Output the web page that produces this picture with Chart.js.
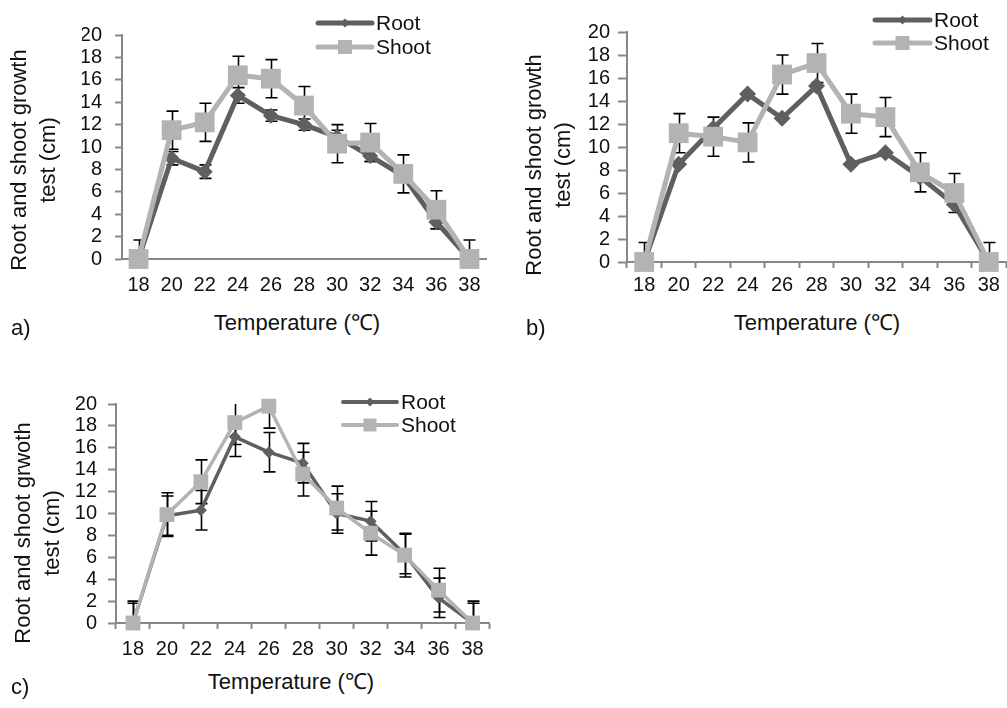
<!DOCTYPE html>
<html>
<head>
<meta charset="utf-8">
<script src="https://cdn.jsdelivr.net/npm/chart.js@4/dist/chart.umd.min.js"></script>
<style>
  html, body { margin: 0; padding: 0; overflow: hidden; background: #fff; }
  body { width: 1007px; height: 708px; position: relative; font-family: "Liberation Sans", Arial, sans-serif; color: #111; }
  canvas { position: absolute; }
  .txt { position: absolute; font-size: 22px; line-height: 26px; white-space: nowrap; }
  .xt { transform: translateX(-50%); }
  .yt { text-align: center; line-height: 29px; transform: translate(-50%, -50%) rotate(-90deg); }
</style>
</head>
<body>
<canvas id="chartA" width="500" height="300" style="left:0;top:0"></canvas>
<canvas id="chartB" width="520" height="300" style="left:500px;top:0"></canvas>
<canvas id="chartC" width="500" height="305" style="left:0;top:360px"></canvas>

<div class="txt yt" style="left:33px;top:160px">Root and shoot growth<br>test (cm)</div>
<div class="txt xt" style="left:297px;top:310px">Temperature (℃)</div>
<div class="txt" style="left:11px;top:315px">a)</div>

<div class="txt yt" style="left:548px;top:165px">Root and shoot growth<br>test (cm)</div>
<div class="txt xt" style="left:817px;top:310px">Temperature (℃)</div>
<div class="txt" style="left:526px;top:315px">b)</div>

<div class="txt yt" style="left:37px;top:533px">Root and shoot grwoth<br>test (cm)</div>
<div class="txt xt" style="left:291px;top:669px">Temperature (℃)</div>
<div class="txt" style="left:11px;top:674px">c)</div>

<script>
// temperatures on the x axis
const temps = ['18', '20', '22', '24', '26', '28', '30', '32', '34', '36', '38'];

// a)
const rootA = [0, 9.0, 7.8, 14.6, 12.8, 12.0, 10.9, 9.2, 7.4, 3.3, 0];
const shootA = [0, 11.5, 12.2, 16.4, 16.1, 13.7, 10.3, 10.4, 7.6, 4.4, 0];
const rootErrA = [0.5, 0.6, 0.6, 0.7, 0.5, 0.5, 0.6, 0.5, 0.5, 0.6, 0.5];
const shootErrA = [1.7, 1.7, 1.7, 1.7, 1.7, 1.7, 1.7, 1.7, 1.7, 1.7, 1.7];

// b)
const rootB = [0, 8.5, 11.6, 14.6, 12.5, 15.3, 8.5, 9.5, 7.4, 5.0, 0];
const shootB = [0, 11.2, 10.9, 10.4, 16.3, 17.3, 12.9, 12.6, 7.8, 6.0, 0];
const rootErrB = [0, 0, 0, 0, 0, 0, 0, 0, 0, 0, 0];
const shootErrB = [1.7, 1.7, 1.7, 1.7, 1.7, 1.7, 1.7, 1.7, 1.7, 1.7, 1.7];

// c)
const rootC = [0, 9.8, 10.3, 17.0, 15.6, 14.6, 10.0, 9.3, 6.3, 2.3, 0];
const shootC = [0, 9.9, 12.9, 18.3, 19.8, 13.6, 10.5, 8.2, 6.2, 3.0, 0];
const rootErrC = [1.8, 1.8, 1.8, 1.8, 1.8, 1.8, 1.8, 1.8, 1.8, 1.8, 1.8];
const shootErrC = [2.0, 2.0, 2.0, 2.0, 2.0, 2.0, 2.0, 2.0, 2.0, 2.0, 2.0];

const yTicks = [0, 2, 4, 6, 8, 10, 12, 14, 16, 18, 20];

const FONT = '"Liberation Sans", Arial, sans-serif';
const ROOT_COL = '#5f5f5f';
const SHOOT_COL = '#b3b3b3';
const AXIS_COL = '#878787';

// error bars, drawn under the lines and markers
const errorBars = {
    id: 'errorBars',
    beforeDatasetsDraw(chart, args, opts) {
        const ctx = chart.ctx;
        const area = chart.chartArea;
        const y = chart.scales.y;
        ctx.save();
        ctx.beginPath();
        ctx.rect(area.left - 10, area.top, area.right - area.left + 20, area.bottom - area.top);
        ctx.clip();
        ctx.strokeStyle = '#000';
        ctx.lineWidth = 1.6;
        chart.data.datasets.forEach((ds, i) => {
            const meta = chart.getDatasetMeta(i);
            meta.data.forEach((pt, j) => {
                const e = ds.errors[j];
                if (!e) return;
                const v = ds.data[j];
                const yt = y.getPixelForValue(v + e);
                const yb = y.getPixelForValue(v - e);
                const x = Math.round(pt.x) + 0.5;
                ctx.beginPath();
                ctx.moveTo(x, yt);
                ctx.lineTo(x, yb);
                ctx.moveTo(x - opts.cap, yt);
                ctx.lineTo(x + opts.cap, yt);
                ctx.moveTo(x - opts.cap, yb);
                ctx.lineTo(x + opts.cap, yb);
                ctx.stroke();
            });
        });
        ctx.restore();
    }
};

function marker(ctx, style, x, y, r) {
    ctx.beginPath();
    if (style === 'rectRot') {
        ctx.moveTo(x - r, y);
        ctx.lineTo(x, y - r);
        ctx.lineTo(x + r, y);
        ctx.lineTo(x, y + r);
        ctx.closePath();
    } else {
        ctx.rect(x - r, y - r, 2 * r, 2 * r);
    }
    ctx.fill();
}

// legend at a fixed spot (canvas coords)
const legendBox = {
    id: 'legendBox',
    afterDraw(chart, args, opts) {
        const ctx = chart.ctx;
        ctx.save();
        chart.data.datasets.forEach((ds, i) => {
            const yy = opts.y + i * opts.row;
            ctx.strokeStyle = ds.borderColor;
            ctx.lineWidth = opts.lineWidth;
            ctx.lineCap = 'round';
            ctx.beginPath();
            ctx.moveTo(opts.x, yy);
            ctx.lineTo(opts.x + opts.len, yy);
            ctx.stroke();
            ctx.fillStyle = ds.borderColor;
            marker(ctx, ds.pointStyle, opts.x + opts.len / 2, yy, opts.sizes[i]);
            ctx.fillStyle = '#111';
            ctx.font = '21px ' + FONT;
            ctx.textBaseline = 'middle';
            ctx.textAlign = 'left';
            ctx.fillText(ds.label, opts.x + opts.len + 4, yy + 1);
        });
        ctx.restore();
    }
};

function makeChart(id, root, shoot, rootErr, shootErr, cfg) {
    new Chart(id, {
        type: 'line',
        data: {
            labels: temps,
            datasets: [
                {
                    label: 'Root', data: root, errors: rootErr, order: 2,
                    borderColor: ROOT_COL, backgroundColor: ROOT_COL,
                    borderWidth: cfg.lw, pointStyle: 'rectRot', pointRadius: cfg.rootR,
                    pointBorderWidth: 0, pointBackgroundColor: ROOT_COL,
                    borderJoinStyle: 'round', tension: 0, clip: false,
                },
                {
                    label: 'Shoot', data: shoot, errors: shootErr, order: 1,
                    borderColor: SHOOT_COL, backgroundColor: SHOOT_COL,
                    borderWidth: cfg.lw, pointStyle: 'rect', pointRadius: cfg.shootR,
                    pointBorderWidth: 0, pointBackgroundColor: SHOOT_COL,
                    borderJoinStyle: 'round', tension: 0, clip: false,
                },
            ]
        },
        options: {
            responsive: false,
            animation: false,
            devicePixelRatio: 1,
            events: [],
            layout: { padding: cfg.pad },
            plugins: {
                legend: { display: false },
                tooltip: { enabled: false },
                errorBars: { cap: 6 },
                legendBox: cfg.legend,
            },
            scales: {
                x: {
                    type: 'category',
                    offset: true,
                    grid: {
                        offset: true, drawOnChartArea: false, drawTicks: cfg.xTicks,
                        tickLength: 6, tickColor: AXIS_COL, tickWidth: 2,
                    },
                    border: { display: true, color: AXIS_COL, width: 2 },
                    ticks: { color: '#111', font: { family: FONT, size: 20 }, padding: cfg.xPad, maxRotation: 0, autoSkip: false },
                    afterFit: (s) => { s.height = cfg.xH; },
                },
                y: {
                    min: 0, max: 20,
                    afterBuildTicks: (s) => { s.ticks = yTicks.map(v => ({ value: v })); },
                    grid: {
                        drawOnChartArea: false, drawTicks: true,
                        tickLength: cfg.yTick, tickColor: AXIS_COL, tickWidth: 2,
                    },
                    border: { display: true, color: AXIS_COL, width: 2 },
                    ticks: { color: '#111', font: { family: FONT, size: 20 }, padding: cfg.yPad, autoSkip: false },
                    afterFit: (s) => { s.width = 40; },
                },
            },
        },
        plugins: [errorBars, legendBox],
    });
}

makeChart('chartA', rootA, shootA, rootErrA, shootErrA, {
    lw: 5, rootR: 8, shootR: 14,
    pad: { left: 82, top: 35, right: 5, bottom: 0 },
    xTicks: false, xPad: 14, xH: 41, yTick: 7, yPad: 13,
    legend: { x: 318, y: 23, row: 24, len: 54, lineWidth: 5, sizes: [4.5, 7] },
});

makeChart('chartB', rootB, shootB, rootErrB, shootErrB, {
    lw: 5, rootR: 8.5, shootR: 14,
    pad: { left: 87, top: 32, right: 12, bottom: 0 },
    xTicks: true, xPad: 5, xH: 38, yTick: 9, yPad: 8,
    legend: { x: 375, y: 20, row: 23, len: 55, lineWidth: 5, sizes: [4.5, 7] },
});

makeChart('chartC', rootC, shootC, rootErrC, shootErrC, {
    lw: 3.5, rootR: 6, shootR: 10.5,
    pad: { left: 76, top: 44, right: 5, bottom: 0 },
    xTicks: true, xPad: 8, xH: 42, yTick: 8, yPad: 11,
    legend: { x: 343, y: 42, row: 23, len: 54, lineWidth: 4, sizes: [4.5, 6.5] },
});
</script>
</body>
</html>
